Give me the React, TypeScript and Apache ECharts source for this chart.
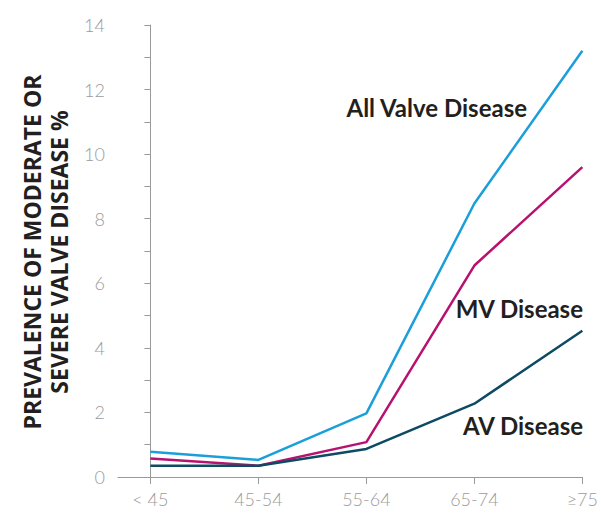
import React, { useEffect, useRef } from "react";
import * as echarts from "echarts";

const categories = ["< 45", "45-54", "55-64", "65-74", "≥75"];
const allValve = [0.78, 0.53, 1.97, 8.47, 13.2];
const mvDisease = [0.57, 0.35, 1.08, 6.55, 9.6];
const avDisease = [0.35, 0.35, 0.87, 2.27, 4.53];
const yTicks = [0, 2, 4, 6, 8, 10, 12, 14];

const seriesDefs = [
  { name: "All Valve Disease", values: allValve, color: "#1b9fda" },
  { name: "MV Disease", values: mvDisease, color: "#b7126f" },
  { name: "AV Disease", values: avDisease, color: "#0d4a63" },
];

export default function App() {
  const ref = useRef<HTMLDivElement>(null);
  useEffect(() => {
    if (!ref.current) return;
    const chart = echarts.init(ref.current, null, { renderer: "svg" });
    const idx = categories.map((_, i) => i);
    const axisColor = "#9a9a9a";
    const labelFont = { color: "#9b9b9b", fontSize: 18, fontFamily: "Lato", fontWeight: 300 as any };
    const annot = (text: string, x: number, y: number) => ({
      type: "text",
      x,
      y,
      style: {
        text,
        fontSize: 24,
        fontWeight: "bold",
        fontFamily: "Lato",
        fill: "#231f20",
        align: "right",
        verticalAlign: "middle",
      },
    });
    chart.setOption({
      animation: false,
      grid: { left: 118, right: 18, top: 25, bottom: 36, containLabel: false },
      xAxis: {
        type: "value",
        min: -0.3,
        max: categories.length - 1,
        splitLine: { show: false },
        axisLine: { show: true, lineStyle: { color: axisColor, width: 1 } },
        axisTick: { show: true, customValues: idx, length: 7, lineStyle: { color: axisColor } },
        axisLabel: {
          ...labelFont,
          customValues: idx,
          margin: 13,
          formatter: (v: number) => categories[Math.round(v)] ?? "",
        },
      },
      yAxis: {
        type: "value",
        min: 0,
        max: 14,
        interval: 2,
        splitLine: { show: false },
        axisLine: { show: true, lineStyle: { color: axisColor, width: 1 } },
        axisTick: { show: true, length: 6, lineStyle: { color: axisColor } },
        minorTick: { show: true, splitNumber: 2, length: 6, lineStyle: { color: axisColor } },
        axisLabel: {
          ...labelFont,
          margin: 13,
          customValues: yTicks,
          formatter: (v: number) => String(v),
        },
      },
      series: seriesDefs.map((s) => ({
        type: "line",
        name: s.name,
        data: s.values.map((v, i) => [i, v]),
        symbol: "none",
        lineStyle: { color: s.color, width: 2.5 },
        itemStyle: { color: s.color },
      })),
      graphic: [
        {
          type: "text",
          x: 45,
          y: 252,
          rotation: Math.PI / 2,
          style: {
            text: "PREVALENCE OF MODERATE OR\nSEVERE VALVE DISEASE %",
            fontSize: 23,
            fontWeight: "bold",
            fontFamily: "Open Sans",
            fill: "#231f20",
            align: "center",
            verticalAlign: "middle",
            lineHeight: 27,
          },
        },
        annot("All Valve Disease", 527, 107),
        annot("MV Disease", 583, 308),
        annot("AV Disease", 583, 425),
      ],
    });
    return () => chart.dispose();
  }, []);
  return <div ref={ref} style={{ width: 601, height: 513, position: "absolute", left: 0, top: 0 }} />;
}
